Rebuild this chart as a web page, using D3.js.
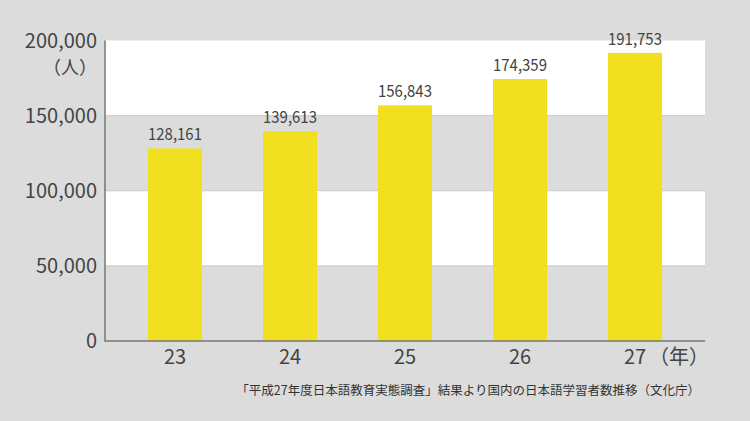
<!DOCTYPE html><html><head><meta charset="utf-8"><script src="https://cdn.jsdelivr.net/npm/d3@7"></script>
<style>body{margin:0;background:#dcdcdc}svg{display:block}text{font-family:"Noto Sans CJK JP","Noto Sans",sans-serif}</style></head><body>
<script>
const years=["23","24","25","26","27"];
const values=[128161,139613,156843,174359,191753];
const yTicks=[0,50000,100000,150000,200000];
const W=750,H=421,L=105,R=705,T=40.5,B=341;
const svg=d3.select("body").append("svg").attr("width",W).attr("height",H);
svg.append("rect").attr("width",W).attr("height",H).attr("fill","#dcdcdc");
const x=d3.scaleBand().domain(years).range([117.5,692.5]).paddingInner(0.53).paddingOuter(0.265);
const y=d3.scaleLinear().domain([0,200000]).range([B,T]);
[[150000,200000],[50000,100000]].forEach(b=>svg.append("rect").attr("x",L).attr("width",R-L).attr("y",y(b[1])).attr("height",y(b[0])-y(b[1])).attr("fill","#fff"));
[50000,100000,150000].forEach(v=>svg.append("line").attr("x1",L).attr("x2",R).attr("y1",y(v)).attr("y2",y(v)).attr("stroke","#c8c8c8"));
svg.selectAll(".bar").data(values).join("rect").attr("x",(d,i)=>x(years[i])).attr("width",x.bandwidth()).attr("y",d=>y(d)).attr("height",d=>B-y(d)).attr("fill","#f0e020");
svg.selectAll(".vl").data(values).join("text").attr("x",(d,i)=>x(years[i])+x.bandwidth()/2).attr("y",d=>y(d)-8).attr("text-anchor","middle").attr("font-size",17).attr("fill","#444").attr("transform",(d,i)=>`translate(${(x(years[i])+x.bandwidth()/2)*0.12},0) scale(0.88,1)`).text(d3.format(","));
svg.append("line").attr("x1",L).attr("x2",L).attr("y1",T).attr("y2",B+1).attr("stroke","#777").attr("stroke-width",1.5);
svg.append("line").attr("x1",L).attr("x2",R).attr("y1",B).attr("y2",B).attr("stroke","#777").attr("stroke-width",1.5);
svg.selectAll(".yt").data(yTicks).join("text").attr("x",97).attr("y",d=>y(d)+7).attr("text-anchor","end").attr("font-size",20).attr("fill","#444").text(d=>d3.format(",")(d));
svg.append("text").attr("x",97).attr("y",74).attr("text-anchor","end").attr("font-size",18).attr("fill","#444").text("（人）");
svg.selectAll(".xt").data(years).join("text").attr("x",d=>x(d)+x.bandwidth()/2).attr("y",364).attr("text-anchor","middle").attr("font-size",20).attr("fill","#444").text(d=>d);
svg.append("text").attr("x",x("27")+x.bandwidth()/2+14).attr("y",364).attr("font-size",20).attr("fill","#444").text("（年）");
svg.append("text").attr("x",700).attr("y",395).attr("text-anchor","end").attr("font-size",12.5).attr("fill","#333").text("「平成27年度日本語教育実態調査」結果より国内の日本語学習者数推移（文化庁）");
</script></body></html>
